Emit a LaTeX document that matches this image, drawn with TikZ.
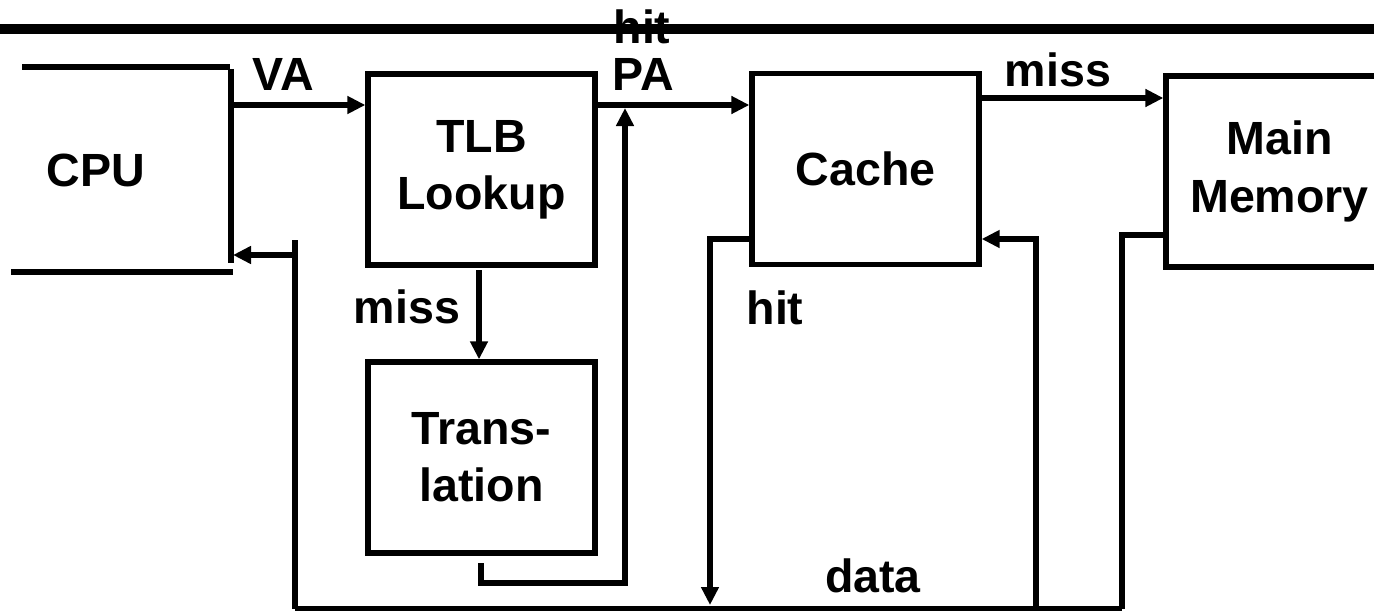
\documentclass[tikz,border=0pt]{standalone}
\usepackage{fontspec}
\setmainfont{Liberation Sans}
\usetikzlibrary{arrows.meta}

\begin{document}
\begin{tikzpicture}[
  arr/.style={-{Triangle[length=3.6mm, width=3.4mm]}, line width=3pt},
  wire/.style={line width=3pt},
  blk/.style={
    rectangle, draw, line width=3pt,
    minimum width=4.54cm, minimum height=3.82cm,
    align=center, inner sep=0pt,
    font=\bfseries\fontsize{26.5}{32.5}\selectfont
  },
  lbl/.style={inner sep=0pt, font=\bfseries\fontsize{26.5}{32.5}\selectfont}
]
\useasboundingbox (0,0) rectangle (27.48,-12.3);

%% header rule
\coordinate (rule_l) at (0,-0.58);
\coordinate (rule_r) at (27.48,-0.58);
\draw[line width=6.2pt] (rule_l) -- (rule_r);

%% ─── BLOCKS ──────────────────────────────────────────────
\node[lbl] (cpu) at (1.92,-3.4) {CPU};
\node[blk] (tlb) at (9.63,-3.39) {TLB\\Lookup};
\node[blk] (trans) at (9.63,-9.15) {Trans-\\lation};
\node[blk] (cache) at (17.31,-3.38) {Cache};
\node[blk] (mem) at (25.59,-3.43) {Main\\Memory};

%% CPU outline (open on the left)
\draw[wire] (0.44,-1.34) -- (4.6,-1.34);
\draw[wire] (4.62,-1.38) -- (4.62,-5.26);
\draw[wire] (0.22,-5.44) -- (4.66,-5.44);

%% ─── FORWARD PATH ────────────────────────────────────────
\coordinate (cpu_out) at (4.66,-2.1);
\coordinate (pa_join) at (12.5,-2.1);
\draw[arr] (cpu_out) -- (cpu_out -| tlb.west);
\draw[arr] (tlb.east |- cpu_out) -- (cache.west |- cpu_out);
\draw[arr] (cache.east |- 0,-1.96) -- (mem.west |- 0,-1.96);

%% TLB miss goes down to translation
\draw[arr] (9.58,-5.4) -- (trans.north -| 9.58,0);

%% translation result back up to the PA line
\draw[arr] (9.62,-11.26) -- (9.62,-11.66) -- (12.5,-11.66) -- ([yshift=-0.06cm]pa_join);

%% ─── DATA RETURN ─────────────────────────────────────────
\coordinate (bus_l) at (5.9,-12.17);
\coordinate (bus_r) at (22.44,-12.17);
\draw[wire] (bus_l) -- (bus_r);

%% main memory data drops to the bus
\draw[wire] (mem.west |- 0,-4.7) -- (22.44,-4.7) -- (bus_r);

%% bus up into the cache
\draw[arr] (20.72,-12.17) -- (20.72,-4.78) -- (cache.east |- 0,-4.78);

%% cache hit drops to the bus
\draw[arr] (cache.west |- 0,-4.78) -- (14.2,-4.78) -- (14.2,-12.1);

%% bus up to the CPU
\draw[wire] (bus_l) -- (5.9,-4.8);
\draw[arr] (5.9,-5.1) -- (4.66,-5.1);

%% ─── LABELS ──────────────────────────────────────────────
\node[lbl] (va_lbl) at (5.66,-1.48) {VA};
\node[lbl] (pa_lbl) at (12.86,-1.48) {PA};
\node[lbl] (hit_top) at (12.84,-0.54) {hit};
\node[lbl] (miss_mem) at (21.16,-1.4) {miss};
\node[lbl] (miss_tlb) at (8.14,-6.14) {miss};
\node[lbl] (hit_cache) at (15.5,-6.16) {hit};
\node[lbl] (data_lbl) at (17.46,-11.52) {data};

\end{tikzpicture}
\end{document}
